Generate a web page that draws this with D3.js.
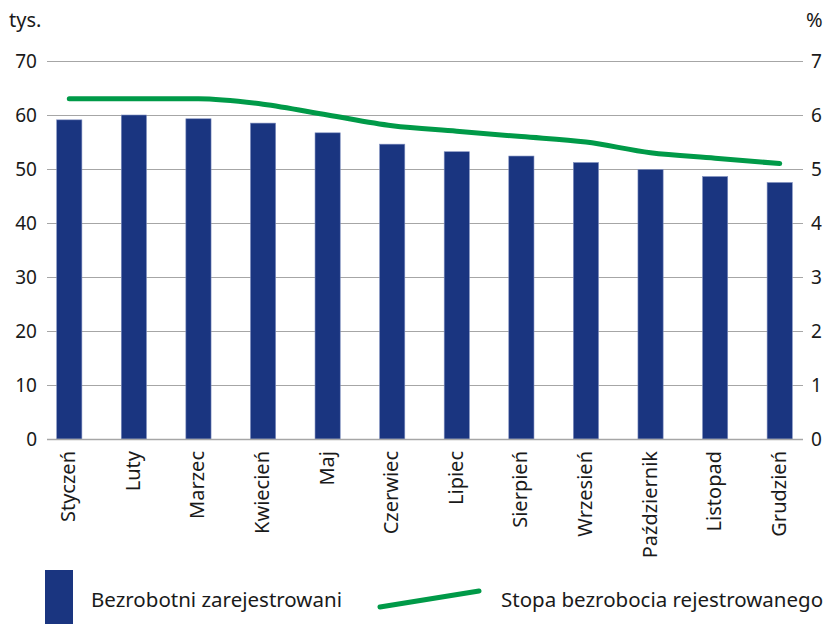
<!DOCTYPE html>
<html>
<head>
<meta charset="utf-8">
<script src="https://cdn.jsdelivr.net/npm/d3@7"></script>
<style>
  body { margin: 0; background: #fff; }
  svg text { font-family: "Noto Sans", "Open Sans", sans-serif; fill: #1a1a1a; }
</style>
</head>
<body>
<div id="chart"></div>
<script>
// Data
var months = ["Styczeń", "Luty", "Marzec", "Kwiecień", "Maj", "Czerwiec",
              "Lipiec", "Sierpień", "Wrzesień", "Październik", "Listopad", "Grudzień"];
var unemployed = [59.1, 60.0, 59.3, 58.5, 56.7, 54.6, 53.2, 52.4, 51.2, 49.9, 48.6, 47.5];
var rate = [6.3, 6.3, 6.3, 6.2, 6.0, 5.8, 5.7, 5.6, 5.5, 5.3, 5.2, 5.1];
var leftTicks = [0, 10, 20, 30, 40, 50, 60, 70];
var rightTicks = [0, 1, 2, 3, 4, 5, 6, 7];

// Sizing
var width = 828;
var height = 624;
var plotLeft = 47, plotRight = 803, plotTop = 61, plotBottom = 439;

var blue = "#1a3580";
var green = "#009a48";

var svg = d3.select("#chart")
    .append("svg")
    .attr("width", width)
    .attr("height", height);

var x = d3.scaleBand()
    .domain(months)
    .range([37, 812])
    .paddingInner(0.61)
    .paddingOuter(0.305);

var yLeft = d3.scaleLinear()
    .domain([0, 70])
    .range([plotBottom, plotTop]);

var yRight = d3.scaleLinear()
    .domain([0, 7])
    .range([plotBottom, plotTop]);

// Gridlines
svg.append("g")
    .selectAll("line")
    .data(leftTicks)
    .enter()
    .append("line")
    .attr("x1", plotLeft)
    .attr("x2", plotRight)
    .attr("y1", d => Math.round(yLeft(d)) + 0.5)
    .attr("y2", d => Math.round(yLeft(d)) + 0.5)
    .attr("stroke", "#a6a6a6")
    .attr("stroke-width", 1.2);

// Left axis
var leftAxis = svg.append("g")
    .attr("transform", `translate(${plotLeft},0)`)
    .call(d3.axisLeft(yLeft).tickValues(leftTicks).tickSize(0).tickPadding(10));
leftAxis.select(".domain").remove();
leftAxis.selectAll("text").style("font-size", "19px").attr("fill", "#1a1a1a");

// Right axis
var rightAxis = svg.append("g")
    .attr("transform", `translate(${plotRight},0)`)
    .call(d3.axisRight(yRight).tickValues(rightTicks).tickFormat(d3.format("d")).tickSize(0).tickPadding(8));
rightAxis.select(".domain").remove();
rightAxis.selectAll("text").style("font-size", "19px").attr("fill", "#1a1a1a");

// Units
svg.append("text").attr("x", 9).attr("y", 27).style("font-size", "20px").text("tys.");
svg.append("text").attr("x", 806).attr("y", 27).style("font-size", "20px").text("%");

// Bars
svg.append("g")
    .selectAll("rect")
    .data(unemployed)
    .enter()
    .append("rect")
    .attr("x", (d, i) => x(months[i]))
    .attr("width", x.bandwidth())
    .attr("y", d => yLeft(d))
    .attr("height", d => yLeft(0) - yLeft(d))
    .attr("fill", blue)
    .attr("stroke", "#7f8fbf")
    .attr("stroke-width", 0.6);

// Baseline
svg.append("line")
    .attr("x1", plotLeft)
    .attr("x2", plotRight)
    .attr("y1", Math.round(yLeft(0)) + 0.5)
    .attr("y2", Math.round(yLeft(0)) + 0.5)
    .attr("stroke", "#a6a6a6")
    .attr("stroke-width", 1.5);

// Line
var line = d3.line()
    .x((d, i) => x(months[i]) + x.bandwidth() / 2)
    .y(d => yRight(d))
    .curve(d3.curveMonotoneX);

svg.append("path")
    .datum(rate)
    .attr("d", line)
    .attr("fill", "none")
    .attr("stroke", green)
    .attr("stroke-width", 5)
    .attr("stroke-linecap", "round")
    .attr("stroke-linejoin", "round");

// Month labels
svg.append("g")
    .selectAll("text")
    .data(months)
    .enter()
    .append("text")
    .attr("transform", d => `translate(${x(d) + x.bandwidth() / 2 + 6},${yLeft(0) + 12}) rotate(-90)`)
    .attr("text-anchor", "end")
    .style("font-size", "20px")
    .text(d => d);

// Legend
svg.append("rect")
    .attr("x", 45)
    .attr("y", 570)
    .attr("width", 28)
    .attr("height", 54)
    .attr("fill", blue);
svg.append("text")
    .attr("x", 91)
    .attr("y", 607)
    .style("font-size", "20.5px")
    .text("Bezrobotni zarejestrowani");

svg.append("line")
    .attr("x1", 380)
    .attr("y1", 607)
    .attr("x2", 479)
    .attr("y2", 591)
    .attr("stroke", green)
    .attr("stroke-width", 5)
    .attr("stroke-linecap", "round");
svg.append("text")
    .attr("x", 501)
    .attr("y", 607)
    .style("font-size", "20.5px")
    .text("Stopa bezrobocia rejestrowanego");
</script>
</body>
</html>
